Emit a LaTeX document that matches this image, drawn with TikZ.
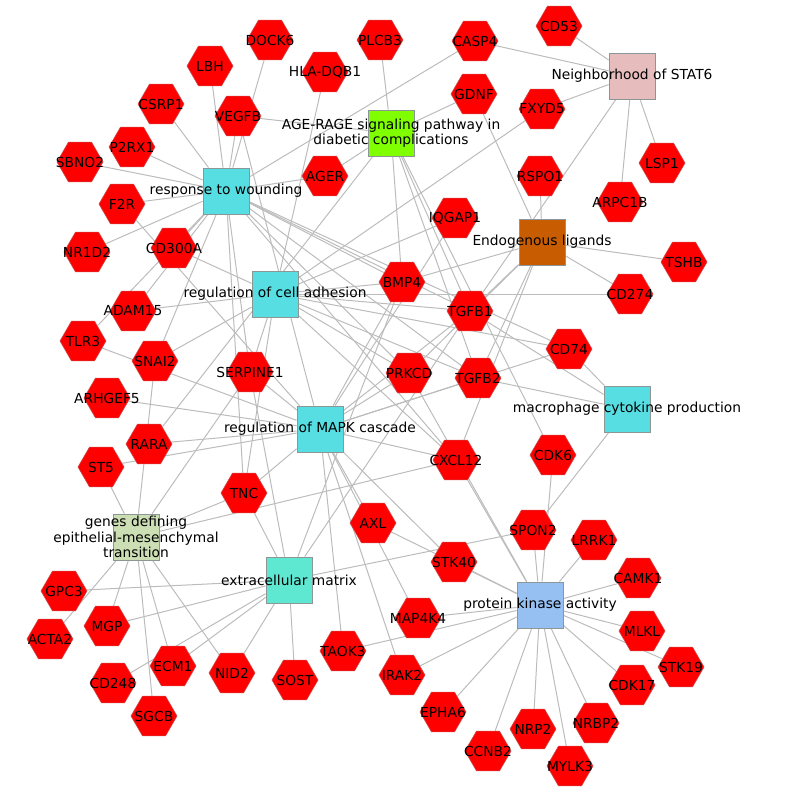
\documentclass[tikz,border=0pt]{standalone}
\usepackage{fontspec}
\setmainfont{DejaVu Sans}
\usetikzlibrary{shapes.geometric,backgrounds}
\definecolor{hexred}{RGB}{255,0,0}
\definecolor{hexline}{RGB}{205,70,70}
\definecolor{linkgray}{RGB}{188,188,188}
\definecolor{boxline}{RGB}{140,150,150}
\definecolor{termcyan}{RGB}{86,222,226}
\definecolor{termaqua}{RGB}{94,232,210}
\definecolor{termblue}{RGB}{150,192,242}
\definecolor{termlime}{RGB}{128,255,0}
\definecolor{termpink}{RGB}{230,188,188}
\definecolor{termbrown}{RGB}{200,92,0}
\definecolor{termsage}{RGB}{204,222,180}
\begin{document}
\begin{tikzpicture}[x=1pt, y=-1pt,
  gene/.style={regular polygon, regular polygon sides=6, minimum size=46pt,
    inner sep=0pt, fill=hexred, draw=hexline, line width=0.6pt},
  term/.style={rectangle, minimum size=46pt, inner sep=0pt, draw=boxline, line width=0.8pt},
  link/.style={draw=linkgray, line width=1pt},
  every label/.style={font=\fontsize{13.8}{15.5}\selectfont, text=black, inner sep=0pt}]
  \useasboundingbox (0,0) rectangle (800,793);

  % term boxes
  \node[term, fill=termcyan, label=center:response to wounding] (wound) at (226,191) {};
  \node[term, fill=termlime, label={[align=center]center:AGE-RAGE signaling pathway in\\diabetic complications}] (age) at (391,133) {};
  \node[term, fill=termpink, label=center:Neighborhood of STAT6] (stat6) at (632,76) {};
  \node[term, fill=termbrown, label=center:Endogenous ligands] (endo) at (542,242) {};
  \node[term, fill=termcyan, label=center:regulation of cell adhesion] (adhesion) at (275,294) {};
  \node[term, fill=termcyan, label=center:regulation of MAPK cascade] (mapk) at (320,429) {};
  \node[term, fill=termcyan, label=center:macrophage cytokine production] (macro) at (627,409) {};
  \node[term, fill=termsage, label={[align=center]center:genes defining\\epithelial-mesenchymal\\transition}] (emt) at (136,537) {};
  \node[term, fill=termaqua, label=center:extracellular matrix] (ecm) at (289,580) {};
  \node[term, fill=termblue, label=center:protein kinase activity] (kinase) at (540,605) {};

  % genes
  \node[gene, label=center:DOCK6] (dock6) at (270,40) {};
  \node[gene, label=center:LBH] (lbh) at (210,66) {};
  \node[gene, label=center:HLA-DQB1] (hladqb1) at (325,72) {};
  \node[gene, label=center:PLCB3] (plcb3) at (380,40) {};
  \node[gene, label=center:CSRP1] (csrp1) at (161,104) {};
  \node[gene, label=center:VEGFB] (vegfb) at (238,116) {};
  \node[gene, label=center:P2RX1] (p2rx1) at (132,147) {};
  \node[gene, label=center:SBNO2] (sbno2) at (80,162) {};
  \node[gene, label=center:AGER] (ager) at (325,176) {};
  \node[gene, label=center:F2R] (f2r) at (122,204) {};
  \node[gene, label=center:NR1D2] (nr1d2) at (87,252) {};
  \node[gene, label=center:CD300A] (cd300a) at (174,248) {};
  \node[gene, label=center:CD53] (cd53) at (559,26) {};
  \node[gene, label=center:CASP4] (casp4) at (475,41) {};
  \node[gene, label=center:GDNF] (gdnf) at (474,94) {};
  \node[gene, label=center:FXYD5] (fxyd5) at (542,109) {};
  \node[gene, label=center:LSP1] (lsp1) at (662,163) {};
  \node[gene, label=center:RSPO1] (rspo1) at (540,176) {};
  \node[gene, label=center:ARPC1B] (arpc1b) at (620,202) {};
  \node[gene, label=center:IQGAP1] (iqgap1) at (455,218) {};
  \node[gene, label=center:TSHB] (tshb) at (684,262) {};
  \node[gene, label=center:ADAM15] (adam15) at (133,311) {};
  \node[gene, label=center:TLR3] (tlr3) at (83,341) {};
  \node[gene, label=center:SNAI2] (snai2) at (155,361) {};
  \node[gene, label=center:SERPINE1] (serpine1) at (250,372) {};
  \node[gene, label=center:ARHGEF5] (arhgef5) at (107,398) {};
  \node[gene, label=center:RARA] (rara) at (149,444) {};
  \node[gene, label=center:ST5] (st5) at (101,467) {};
  \node[gene, label=center:TNC] (tnc) at (244,493) {};
  \node[gene, label=center:BMP4] (bmp4) at (402,282) {};
  \node[gene, label=center:TGFB1] (tgfb1) at (470,311) {};
  \node[gene, label=center:CD274] (cd274) at (630,294) {};
  \node[gene, label=center:CD74] (cd74) at (569,349) {};
  \node[gene, label=center:PRKCD] (prkcd) at (409,373) {};
  \node[gene, label=center:TGFB2] (tgfb2) at (478,378) {};
  \node[gene, label=center:CXCL12] (cxcl12) at (456,460) {};
  \node[gene, label=center:CDK6] (cdk6) at (553,455) {};
  \node[gene, label=center:AXL] (axl) at (373,523) {};
  \node[gene, label=center:GPC3] (gpc3) at (64,591) {};
  \node[gene, label=center:ACTA2] (acta2) at (50,639) {};
  \node[gene, label=center:MGP] (mgp) at (107,626) {};
  \node[gene, label=center:ECM1] (ecm1) at (173,666) {};
  \node[gene, label=center:CD248] (cd248) at (113,683) {};
  \node[gene, label=center:NID2] (nid2) at (232,673) {};
  \node[gene, label=center:SOST] (sost) at (295,680) {};
  \node[gene, label=center:TAOK3] (taok3) at (343,651) {};
  \node[gene, label=center:SGCB] (sgcb) at (154,716) {};
  \node[gene, label=center:SPON2] (spon2) at (533,530) {};
  \node[gene, label=center:LRRK1] (lrrk1) at (594,540) {};
  \node[gene, label=center:STK40] (stk40) at (454,562) {};
  \node[gene, label=center:CAMK1] (camk1) at (638,578) {};
  \node[gene, label=center:MAP4K4] (map4k4) at (418,618) {};
  \node[gene, label=center:MLKL] (mlkl) at (642,631) {};
  \node[gene, label=center:IRAK2] (irak2) at (402,675) {};
  \node[gene, label=center:STK19] (stk19) at (681,667) {};
  \node[gene, label=center:CDK17] (cdk17) at (632,685) {};
  \node[gene, label=center:EPHA6] (epha6) at (443,712) {};
  \node[gene, label=center:NRP2] (nrp2) at (533,729) {};
  \node[gene, label=center:NRBP2] (nrbp2) at (596,723) {};
  \node[gene, label=center:CCNB2] (ccnb2) at (488,751) {};
  \node[gene, label=center:MYLK3] (mylk3) at (570,766) {};

  % links behind the nodes
  \begin{pgfonlayer}{background}
    \foreach \g in {lbh,dock6,vegfb,csrp1,p2rx1,sbno2,f2r,nr1d2,ager,casp4,cd300a,adam15,
                    tlr3,snai2,serpine1,tnc,bmp4,tgfb1,tgfb2,prkcd,cd74,cxcl12}
      \draw[link] (wound) -- (\g);
    \foreach \g in {plcb3,vegfb,gdnf,ager,bmp4,tgfb1,tgfb2,cdk6,rara}
      \draw[link] (age) -- (\g);
    \foreach \g in {cd53,casp4,fxyd5,lsp1,arpc1b,tgfb1}
      \draw[link] (stat6) -- (\g);
    \foreach \g in {rspo1,gdnf,tshb,cd274,bmp4,tgfb1,tgfb2,cxcl12,prkcd}
      \draw[link] (endo) -- (\g);
    \foreach \g in {hladqb1,fxyd5,cd300a,adam15,snai2,serpine1,tnc,bmp4,tgfb1,tgfb2,
                    prkcd,cd74,cd274,iqgap1,cxcl12}
      \draw[link] (adhesion) -- (\g);
    \foreach \g in {vegfb,f2r,tlr3,arhgef5,rara,st5,serpine1,tnc,bmp4,tgfb1,tgfb2,prkcd,
                    cd74,cxcl12,iqgap1,axl,stk40,taok3,irak2,map4k4}
      \draw[link] (mapk) -- (\g);
    \foreach \g in {cd74,tgfb1,tgfb2,spon2}
      \draw[link] (macro) -- (\g);
    \foreach \g in {st5,snai2,serpine1,tnc,cxcl12,acta2,mgp,sgcb,ecm1,nid2}
      \draw[link] (emt) -- (\g);
    \foreach \g in {gpc3,mgp,cd248,ecm1,nid2,sost,tnc,serpine1,bmp4,tgfb1,spon2}
      \draw[link] (ecm) -- (\g);
    \foreach \g in {stk40,map4k4,irak2,taok3,epha6,ccnb2,nrp2,mylk3,nrbp2,cdk17,stk19,
                    mlkl,camk1,lrrk1,spon2,cdk6,axl,cxcl12,prkcd}
      \draw[link] (kinase) -- (\g);
  \end{pgfonlayer}
\end{tikzpicture}
\end{document}
